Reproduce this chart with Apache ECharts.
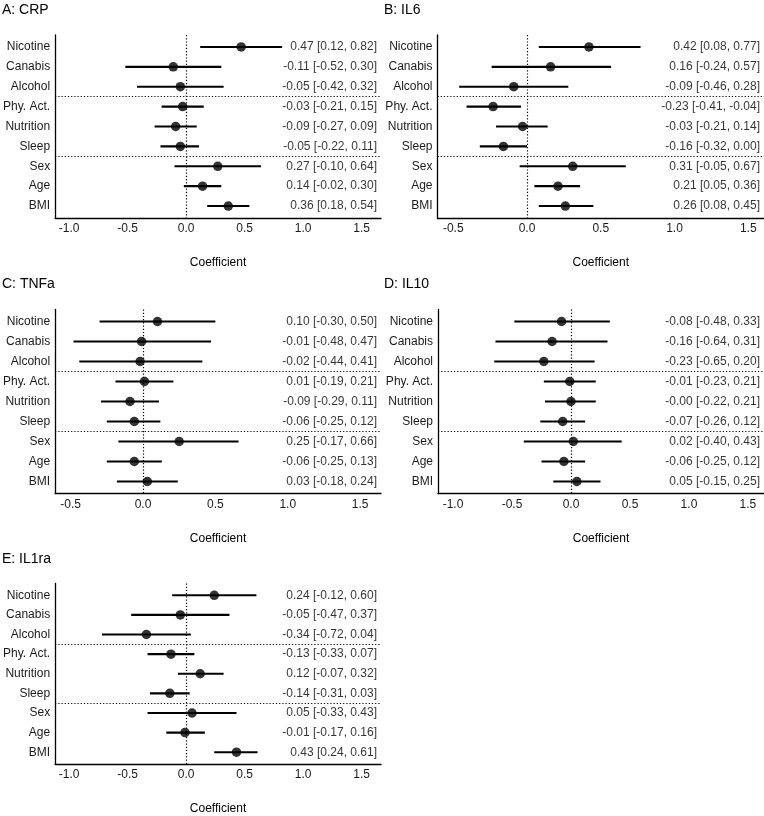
<!DOCTYPE html>
<html>
<head>
<meta charset="utf-8">
<script src="https://cdn.jsdelivr.net/npm/echarts@6/dist/echarts.min.js"></script>
<style>
  html, body { margin: 0; padding: 0; background: #fff; }
  #chart { width: 764px; height: 816px; }
</style>
</head>
<body>
<div id="chart"></div>
<script>
const predictors = ['Nicotine', 'Canabis', 'Alcohol', 'Phy. Act.', 'Nutrition', 'Sleep', 'Sex', 'Age', 'BMI'];
const xTicks = [-1.0, -0.5, 0.0, 0.5, 1.0, 1.5];

const crpEst = [0.47, -0.11, -0.05, -0.03, -0.09, -0.05, 0.27, 0.14, 0.36];
const crpLow = [0.12, -0.52, -0.42, -0.21, -0.27, -0.22, -0.10, -0.02, 0.18];
const crpHigh = [0.82, 0.30, 0.32, 0.15, 0.09, 0.11, 0.64, 0.30, 0.54];

const il6Est = [0.42, 0.16, -0.09, -0.23, -0.03, -0.16, 0.31, 0.21, 0.26];
const il6Low = [0.08, -0.24, -0.46, -0.41, -0.21, -0.32, -0.05, 0.05, 0.08];
const il6High = [0.77, 0.57, 0.28, -0.04, 0.14, 0.00, 0.67, 0.36, 0.45];

const tnfEst = [0.10, -0.01, -0.02, 0.01, -0.09, -0.06, 0.25, -0.06, 0.03];
const tnfLow = [-0.30, -0.48, -0.44, -0.19, -0.29, -0.25, -0.17, -0.25, -0.18];
const tnfHigh = [0.50, 0.47, 0.41, 0.21, 0.11, 0.12, 0.66, 0.13, 0.24];

const il10Est = [-0.08, -0.16, -0.23, -0.01, -0.00, -0.07, 0.02, -0.06, 0.05];
const il10Low = [-0.48, -0.64, -0.65, -0.23, -0.22, -0.26, -0.40, -0.25, -0.15];
const il10High = [0.33, 0.31, 0.20, 0.21, 0.21, 0.12, 0.43, 0.12, 0.25];

const il1raEst = [0.24, -0.05, -0.34, -0.13, 0.12, -0.14, 0.05, -0.01, 0.43];
const il1raLow = [-0.12, -0.47, -0.72, -0.33, -0.07, -0.31, -0.33, -0.17, 0.24];
const il1raHigh = [0.60, 0.37, 0.04, 0.07, 0.32, 0.03, 0.43, 0.16, 0.61];

const panelTitles = ['A: CRP', 'B: IL6', 'C: TNFa', 'D: IL10', 'E: IL1ra'];
const panelData = [
  [crpEst, crpLow, crpHigh],
  [il6Est, il6Low, il6High],
  [tnfEst, tnfLow, tnfHigh],
  [il10Est, il10Low, il10High],
  [il1raEst, il1raLow, il1raHigh],
];

// layout: grid boxes, x ranges, title spots
const grids = [
  { left: 52, top: 35, width: 329, height: 183 },
  { left: 437.5, top: 35, width: 326.5, height: 183 },
  { left: 52, top: 309.5, width: 329, height: 184 },
  { left: 438, top: 309.5, width: 326, height: 184 },
  { left: 52, top: 583.5, width: 329, height: 184 },
];
const xRanges = [[-1.12, 1.665], [-0.607, 1.607], [-0.607, 1.644], [-1.127, 1.636], [-1.12, 1.665]];
const titleSpots = [[2, 3], [384, 3], [2, 277], [384, 277], [2, 552]];

const FONT = '"Liberation Sans", Arial, Helvetica, sans-serif';
const fmt = v => (v < 0 || Object.is(v, -0) ? '-' : '') + Math.abs(v).toFixed(2);

const chart = echarts.init(document.getElementById('chart'));

const title = [], grid = [], xAxis = [], yAxis = [], series = [];

panelData.forEach(([est, low, high], p) => {
  title.push({
    text: panelTitles[p],
    left: titleSpots[p][0],
    top: titleSpots[p][1],
    padding: 0,
    textStyle: { fontFamily: FONT, fontSize: 14, fontWeight: 'normal', color: '#000' },
  });
  grid.push(grids[p]);
  xAxis.push({
    type: 'value',
    gridIndex: p,
    min: xRanges[p][0],
    max: xRanges[p][1],
    name: 'Coefficient',
    nameLocation: 'middle',
    nameGap: 39,
    nameTextStyle: { fontFamily: FONT, fontSize: 12, color: '#000' },
    axisLine: { show: true, onZero: false, lineStyle: { color: '#000', width: 1.3 } },
    axisTick: { show: false },
    splitLine: { show: false },
    axisLabel: {
      customValues: xTicks,
      formatter: v => v.toFixed(1),
      margin: 5,
      fontFamily: FONT,
      fontSize: 12,
      color: '#1a1a1a',
    },
  });
  yAxis.push({
    type: 'value',
    gridIndex: p,
    inverse: true,
    min: 0.4,
    max: 9.6,
    axisLine: { show: true, onZero: false, lineStyle: { color: '#000', width: 1.3 } },
    axisTick: { show: false },
    splitLine: { show: false },
    axisLabel: {
      customValues: predictors.map((_, i) => i + 1),
      formatter: v => predictors[Math.round(v) - 1] || '',
      margin: 5,
      fontFamily: FONT,
      fontSize: 12,
      color: '#1a1a1a',
    },
  });

  // confidence intervals
  series.push({
    type: 'custom',
    xAxisIndex: p,
    yAxisIndex: p,
    silent: true,
    data: est.map((_, i) => [low[i], high[i], i + 1]),
    encode: { x: [0, 1], y: 2 },
    renderItem: (params, api) => {
      const a = api.coord([api.value(0), api.value(2)]);
      const b = api.coord([api.value(1), api.value(2)]);
      return {
        type: 'line',
        shape: { x1: a[0], y1: a[1], x2: b[0], y2: b[1] },
        style: { stroke: '#000', lineWidth: 2.1 },
      };
    },
    z: 3,
  });

  // point estimates + reference lines
  series.push({
    type: 'scatter',
    xAxisIndex: p,
    yAxisIndex: p,
    silent: true,
    symbolSize: 9.5,
    itemStyle: { color: '#000' },
    data: est.map((v, i) => [v, i + 1]),
    z: 4,
    markLine: {
      silent: true,
      symbol: 'none',
      label: { show: false },
      lineStyle: { color: '#000', width: 1.2, type: [1.2, 2] },
      data: [{ xAxis: 0 }, { yAxis: 3.5 }, { yAxis: 6.5 }],
      z: 1,
    },
  });

  // estimate text at the right of each row
  series.push({
    type: 'scatter',
    xAxisIndex: p,
    yAxisIndex: p,
    silent: true,
    clip: false,
    symbolSize: 0,
    data: est.map((_, i) => [xRanges[p][1], i + 1]),
    label: {
      show: true,
      position: 'left',
      distance: 4,
      fontFamily: FONT,
      fontSize: 12,
      color: '#000',
      formatter: ({ dataIndex: i }) => `${fmt(est[i])} [${fmt(low[i])}, ${fmt(high[i])}]`,
    },
    z: 5,
  });
});

chart.setOption({
  animation: false,
  backgroundColor: '#fff',
  title,
  grid,
  xAxis,
  yAxis,
  series,
});
</script>
</body>
</html>
